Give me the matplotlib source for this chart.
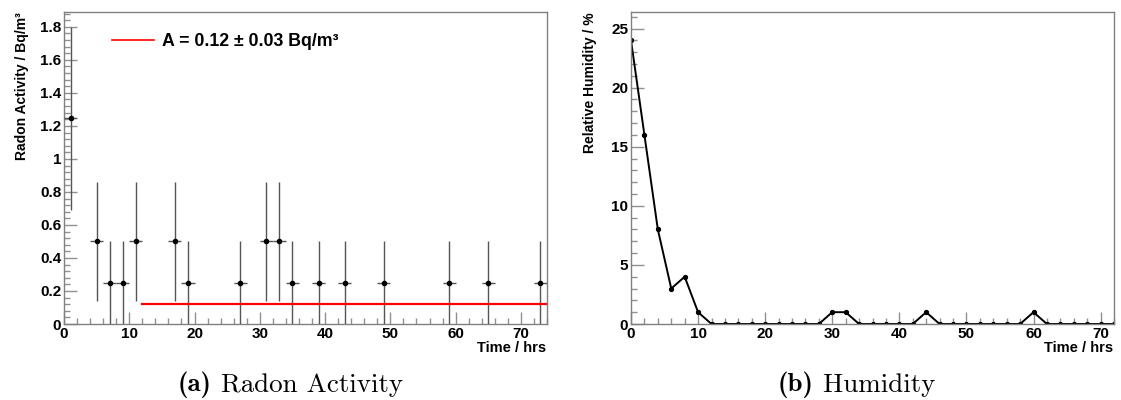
import matplotlib
matplotlib.use("Agg")
import matplotlib.pyplot as plt
from matplotlib.ticker import MultipleLocator
import numpy as np

# ---- data: radon activity ----
radon_time = [1, 5, 7, 9, 11, 17, 19, 27, 31, 33, 35, 39, 43, 49, 59, 65, 73]
radon_value = [1.25, 0.5, 0.25, 0.25, 0.5, 0.5, 0.25, 0.25, 0.5, 0.5, 0.25, 0.25, 0.25, 0.25, 0.25, 0.25, 0.25]
radon_err_lo = [0.56, 0.36, 0.25, 0.25, 0.36, 0.36, 0.25, 0.25, 0.36, 0.36, 0.25, 0.25, 0.25, 0.25, 0.25, 0.25, 0.25]
radon_err_hi = [0.55, 0.36, 0.25, 0.25, 0.36, 0.36, 0.25, 0.25, 0.36, 0.36, 0.25, 0.25, 0.25, 0.25, 0.25, 0.25, 0.25]
radon_time_err = 1.0
fit_value = 0.12
fit_range = [12, 74]
fit_label = "A = 0.12 ± 0.03 Bq/m³"

# ---- data: humidity ----
hum_time = list(range(0, 73, 2))
hum_value = [24, 16, 8, 3, 4, 1, 0, 0, 0, 0, 0, 0, 0, 0, 0, 1, 1, 0, 0,
             0, 0, 0, 1, 0, 0, 0, 0, 0, 0, 0, 1, 0, 0, 0, 0, 0, 0]

W, H = 1121, 400
fig = plt.figure(figsize=(W / 100, H / 100), dpi=100)
sans = ["Liberation Sans", "DejaVu Sans"]

def px(x0, y0, x1, y1):
    return [x0 / W, 1 - y1 / H, (x1 - x0) / W, (y1 - y0) / H]

def style(ax, xmaj, xmin, ymaj, ymin):
    for s in ax.spines.values():
        s.set_color("#808080")
        s.set_linewidth(1.0)
    ax.xaxis.set_major_locator(MultipleLocator(xmaj))
    ax.xaxis.set_minor_locator(MultipleLocator(xmin))
    ax.yaxis.set_major_locator(MultipleLocator(ymaj))
    ax.yaxis.set_minor_locator(MultipleLocator(ymin))
    ax.tick_params(which="both", direction="in", top=False, right=False, color="#909090")
    ax.tick_params(which="major", length=9, width=1, pad=2)
    ax.tick_params(which="minor", length=4.5, width=1)
    for lab in ax.get_xticklabels() + ax.get_yticklabels():
        lab.set_fontfamily(sans)
        lab.set_fontweight("bold")
        lab.set_fontsize(11)

# ---- left panel ----
ax1 = fig.add_axes(px(64, 12, 547, 324))
ax1.errorbar(radon_time, radon_value, yerr=[radon_err_lo, radon_err_hi],
             xerr=radon_time_err, fmt="o", ms=3, color="black",
             ecolor="#555555", elinewidth=1.0, capsize=0, zorder=3)
ax1.plot(fit_range, [fit_value, fit_value], color="red", lw=1.6, zorder=4, label=fit_label)
ax1.set_xlim(0, 74)
ax1.set_ylim(0, 1.89)
style(ax1, 10, 2, 0.2, 0.04)
ax1.yaxis.set_major_formatter(plt.FuncFormatter(lambda v, p: ("%g" % round(v, 2))))
leg = ax1.legend(loc="center left", bbox_to_anchor=(112 / W, 1 - 42 / H),
                 bbox_transform=fig.transFigure, frameon=False,
                 borderaxespad=0, borderpad=0,
                 handlelength=2.35, handletextpad=0.45,
                 prop=dict(family=sans, weight="bold", size=12.8))
leg.get_lines()[0].set_linewidth(1.2)
fig.text(22 / W, 1 - 12 / H, "Radon Activity / Bq/m³", rotation=90, ha="center", va="top",
         fontfamily=sans, fontweight="bold", fontsize=10)
fig.text(546 / W, 1 - 348 / H, "Time / hrs", ha="right", va="center",
         fontfamily=sans, fontweight="bold", fontsize=10.5)

# ---- right panel ----
ax2 = fig.add_axes(px(631, 12, 1114, 324))
ax2.plot(hum_time, hum_value, "-o", color="black", lw=1.4, ms=2.8)
ax2.set_xlim(0, 72)
ax2.set_ylim(0, 26.4)
style(ax2, 10, 2, 5, 1)
fig.text(590 / W, 1 - 12 / H, "Relative Humidity / %", rotation=90, ha="center", va="top",
         fontfamily=sans, fontweight="bold", fontsize=10)
fig.text(1113 / W, 1 - 348 / H, "Time / hrs", ha="right", va="center",
         fontfamily=sans, fontweight="bold", fontsize=10.5)

# ---- captions ----
cap_y = 1 - 385 / H
for cx, tag, txt in [(178, "(a)", " Radon Activity"), (778, "(b)", " Humidity")]:
    t1 = fig.text(cx / W, cap_y, tag, ha="left", va="center", fontfamily=["cmb10", "DejaVu Serif"], fontsize=19.4)
    fig.canvas.draw()
    bb = t1.get_window_extent()
    fig.text(bb.x1 / W, cap_y, txt, ha="left", va="center", fontfamily=["cmr10", "DejaVu Serif"], fontsize=19.4)

fig.savefig("out.png", dpi=100)
